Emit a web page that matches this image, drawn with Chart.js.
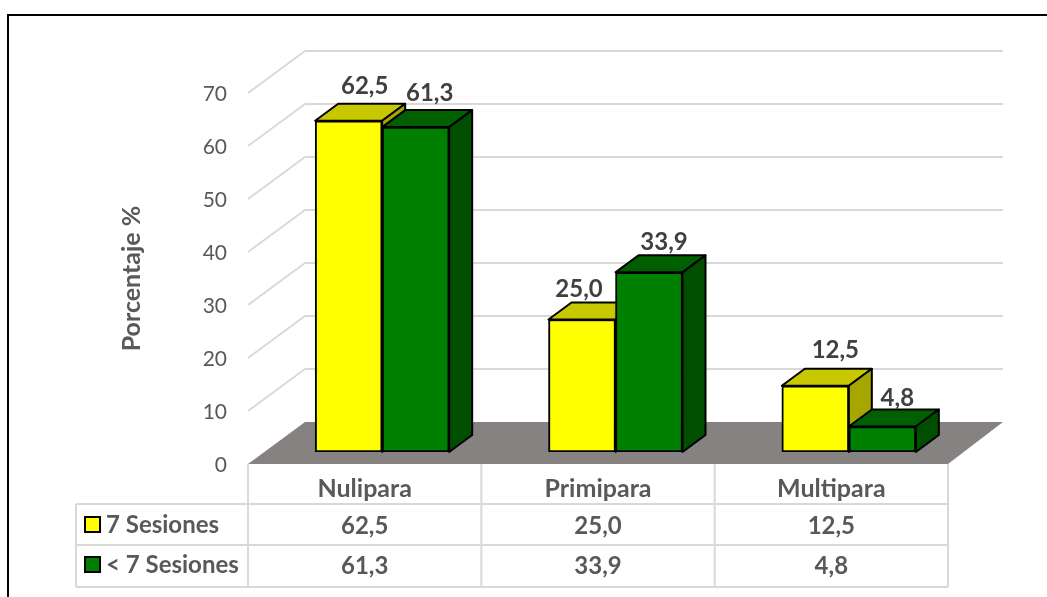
<!DOCTYPE html>
<html lang="es">
<head>
    <meta charset="UTF-8">
    <title>Porcentaje por paridad y sesiones</title>
    <script src="https://cdn.jsdelivr.net/npm/chart.js"></script>
    <style>
        html, body { margin: 0; padding: 0; background: #fff; overflow: hidden; }
        canvas { display: block; }
    </style>
</head>
<body>
    <canvas id="paridadChart" width="1047" height="597"></canvas>

    <script>
        const categories = ['Nulipara', 'Primipara', 'Multipara'];
        const seriesNames = ['7 Sesiones', '< 7 Sesiones'];
        const sieteSesiones = [62.5, 25.0, 12.5];
        const menosSiete = [61.3, 33.9, 4.8];
        const yTicks = [0, 10, 20, 30, 40, 50, 60, 70];

        const fontName = 'Lato, "Open Sans", sans-serif';
        const textGrey = '#595959';
        const gridGrey = '#d9d9d9';

        // front faces sit a bit in from the axis plane, the walls further back
        const barShift = { x: 17.5, y: -12 };
        const barDepth = { x: 23, y: -17 };
        const wallDepth = { x: 57, y: -42 };
        const wallRight = 1003;

        const faces = [
            { front: '#ffff00', top: '#c8c800', side: '#a6a600' },
            { front: '#008000', top: '#005f00', side: '#004f00' }
        ];

        // per-label nudges, [dataset][category], from the bar's top centre
        const labelNudge = [
            [[16, -34], [-3, -30], [20, -35]],
            [[14, -34], [15, -30], [15, -28]]
        ];

        const fmt = v => v.toFixed(1).replace('.', ',');

        function poly(ctx, pts, fill) {
            ctx.beginPath();
            pts.forEach((p, i) => i ? ctx.lineTo(p[0], p[1]) : ctx.moveTo(p[0], p[1]));
            ctx.closePath();
            ctx.fillStyle = fill;
            ctx.fill();
            ctx.lineJoin = 'round';
            ctx.lineWidth = 2;
            ctx.strokeStyle = '#000';
            ctx.stroke();
        }

        function line(ctx, x1, y1, x2, y2) {
            ctx.beginPath();
            ctx.moveTo(x1, y1);
            ctx.lineTo(x2, y2);
            ctx.stroke();
        }

        const scene3d = {
            id: 'scene3d',
            beforeDatasetsDraw(chart) {
                const ctx = chart.ctx;
                const area = chart.chartArea;
                const y = chart.scales.y;

                // left wall diagonals and back wall lines
                ctx.save();
                ctx.strokeStyle = gridGrey;
                ctx.lineWidth = 2;
                yTicks.forEach(t => {
                    if (t === 0) return;
                    const py = y.getPixelForValue(t);
                    line(ctx, area.left, py, area.left + wallDepth.x, py + wallDepth.y);
                    line(ctx, area.left + wallDepth.x, py + wallDepth.y, wallRight, py + wallDepth.y);
                });

                // floor
                const y0 = y.getPixelForValue(0);
                ctx.beginPath();
                ctx.moveTo(area.left, y0);
                ctx.lineTo(area.left + wallDepth.x, y0 + wallDepth.y);
                ctx.lineTo(wallRight, y0 + wallDepth.y);
                ctx.lineTo(area.right, y0);
                ctx.closePath();
                ctx.fillStyle = '#868281';
                ctx.fill();
                ctx.restore();

                // tops and sides, the native bars paint the front faces over them.
                // this save stays open so the shift also applies to the native bars
                ctx.save();
                ctx.translate(barShift.x, barShift.y);
                categories.forEach((c, i) => {
                    faces.forEach((f, d) => {
                        const el = chart.getDatasetMeta(d).data[i];
                        const l = el.x - el.width / 2;
                        const r = el.x + el.width / 2;
                        const dx = barDepth.x, dy = barDepth.y;
                        poly(ctx, [[l, el.y], [l + dx, el.y + dy], [r + dx, el.y + dy], [r, el.y]], f.top);
                        poly(ctx, [[r, el.y], [r + dx, el.y + dy], [r + dx, el.base + dy], [r, el.base]], f.side);
                    });
                });
            },
            afterDatasetsDraw(chart) {
                const ctx = chart.ctx;
                ctx.restore();

                // value labels
                ctx.save();
                ctx.font = 'bold 24px ' + fontName;
                ctx.fillStyle = '#404040';
                ctx.textAlign = 'center';
                ctx.textBaseline = 'middle';
                chart.data.datasets.forEach((ds, d) => {
                    chart.getDatasetMeta(d).data.forEach((el, i) => {
                        const n = labelNudge[d][i];
                        ctx.fillText(fmt(ds.data[i]), el.x + barShift.x + n[0], el.y + barShift.y + n[1]);
                    });
                });
                ctx.restore();
            },
            afterDraw(chart) {
                const ctx = chart.ctx;
                const area = chart.chartArea;
                const x = chart.scales.x;
                const band = (area.right - area.left) / categories.length;
                const rows = [504, 545, 587];
                const tableLeft = 76;
                const rowText = [525, 565];

                ctx.save();
                ctx.strokeStyle = gridGrey;
                ctx.lineWidth = 2;
                rows.forEach(r => line(ctx, tableLeft, r, area.right, r));
                line(ctx, tableLeft, rows[0], tableLeft, rows[2]);
                for (let i = 0; i <= categories.length; i++) {
                    const vx = area.left + band * i;
                    line(ctx, vx, area.bottom, vx, rows[2]);
                }

                ctx.textBaseline = 'middle';
                ctx.font = 'bold 24px ' + fontName;
                chart.data.datasets.forEach((ds, d) => {
                    ctx.fillStyle = faces[d].front;
                    ctx.strokeStyle = '#000';
                    ctx.lineWidth = 2;
                    ctx.fillRect(85, rowText[d] - 8, 15, 15);
                    ctx.strokeRect(85, rowText[d] - 8, 15, 15);
                    ctx.fillStyle = textGrey;
                    ctx.textAlign = 'left';
                    ctx.fillText(seriesNames[d], 106, rowText[d]);
                    ctx.textAlign = 'center';
                    ds.data.forEach((v, i) => ctx.fillText(fmt(v), x.getPixelForValue(i), rowText[d] + 1));
                });

                // the frame of the pasted picture: left and top edges only
                ctx.strokeStyle = '#000';
                ctx.lineWidth = 2;
                ctx.beginPath();
                ctx.moveTo(8, 597);
                ctx.lineTo(8, 15);
                ctx.lineTo(1047, 15);
                ctx.stroke();
                ctx.restore();
            }
        };

        new Chart(document.getElementById('paridadChart'), {
            type: 'bar',
            data: {
                labels: categories,
                datasets: [
                    { label: seriesNames[0], data: sieteSesiones, backgroundColor: faces[0].front, borderColor: '#000', borderWidth: 2, borderSkipped: false, barThickness: 67 },
                    { label: seriesNames[1], data: menosSiete, backgroundColor: faces[1].front, borderColor: '#000', borderWidth: 2, borderSkipped: false, barThickness: 67 }
                ]
            },
            options: {
                responsive: false,
                animation: false,
                layout: { padding: { left: 117, right: 99, top: 93, bottom: 0 } },
                plugins: { legend: { display: false }, tooltip: { enabled: false } },
                scales: {
                    x: {
                        grid: { display: false, drawTicks: false },
                        border: { display: false },
                        ticks: { color: textGrey, font: { family: fontName, size: 25, weight: 'bold' }, padding: 10 },
                        afterFit(scale) { scale.height = 133; }
                    },
                    y: {
                        min: 0,
                        max: 70,
                        afterBuildTicks(scale) { scale.ticks = yTicks.map(v => ({ value: v })); },
                        grid: { display: false, drawTicks: false },
                        border: { display: false },
                        ticks: { color: textGrey, font: { family: fontName, size: 21 }, padding: 21, labelOffset: 1 },
                        title: { display: true, text: 'Porcentaje %', color: textGrey, font: { family: fontName, size: 25, weight: 'bold' }, padding: 0 },
                        afterFit(scale) { scale.width = 131; }
                    }
                }
            },
            plugins: [scene3d]
        });
    </script>
</body>
</html>
